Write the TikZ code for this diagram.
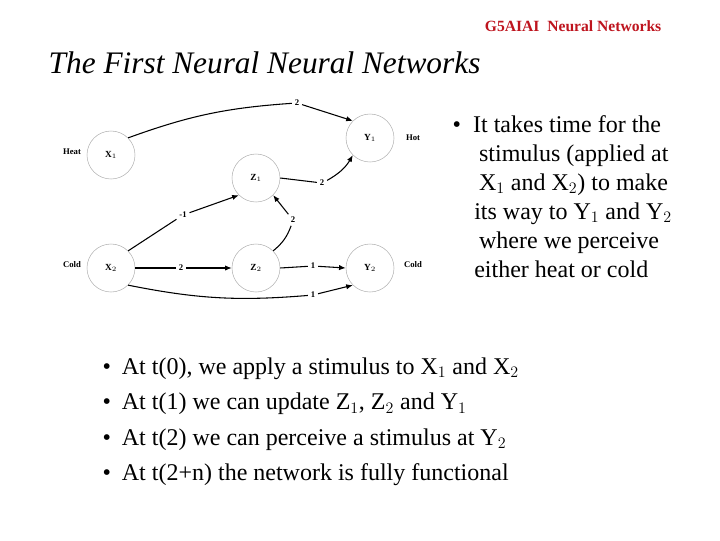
\documentclass[tikz,border=0pt]{standalone}
\usepackage{fontspec}
\setmainfont{Liberation Serif}
\usetikzlibrary{positioning,arrows.meta}
\tikzset{>=latex}
\definecolor{myred}{RGB}{190,20,30}
\tikzstyle{neuron}=[circle, draw=gray!60, minimum size=36, inner sep=0pt, font=\fontsize{7}{8}\selectfont\bfseries]
\tikzstyle{weight}=[fill=white, inner sep=2pt, font=\fontsize{6.5}{8}\selectfont\bfseries]
\tikzstyle{side}=[font=\fontsize{6.5}{8}\selectfont\bfseries]
\tikzstyle{connect arrow}=[-{Latex[length=5,width=4]},thick]
\tikzstyle{bullets}=[align=left, anchor=north west, font=\fontsize{18}{21.7}\selectfont]

\begin{document}
\begin{tikzpicture}[x=0.75pt, y=-0.75pt]
\useasboundingbox (0,0) rectangle (720,540);

\node[font=\fontsize{11.7}{13}\selectfont\bfseries, text=myred, anchor=east] (header) at (666,26) {G5AIAI\ \ Neural Networks};
\node[font=\fontsize{23.5}{26}\selectfont\itshape, anchor=west] (title) at (44,63) {The First Neural Neural Networks};

% neurons
\node[neuron] (x1) at (111,155) {X$_1$};
\node[neuron] (x2) at (111,268) {X$_2$};
\node[neuron] (z1) at (256,178) {Z$_1$};
\node[neuron] (z2) at (256,268) {Z$_2$};
\node[neuron] (y1) at (370,138) {Y$_1$};
\node[neuron] (y2) at (370,268) {Y$_2$};

\node[side] (heat) at (72,152) {Heat};
\node[side] (cold1) at (72,265) {Cold};
\node[side] (hot) at (413,138) {Hot};
\node[side] (cold2) at (413,265) {Cold};

% weights
\node[weight] (w1) at (297,103) {2};
\node[weight] (w2) at (322,183) {2};
\node[weight] (w3) at (183,215) {-1};
\node[weight] (w4) at (293,220) {2};
\node[weight] (w5) at (181,268) {2};
\node[weight] (w6) at (313,266) {1};
\node[weight] (w7) at (313,295) {1};

\begin{scope}[connect arrow]
    \draw[-] (x1.north east) to[bend left=8] (w1);
    \draw (w1) -- (y1.north west);
    \draw[-] (z1.east) -- (w2);
    \draw (w2) to[bend right=15] (y1.south west);
    \draw[-] (x2.north east) -- (w3);
    \draw (w3) -- (z1.south west);
    \draw[-] (z2.north east) to[bend right=15] (w4);
    \draw (w4) -- (z1.south east);
    \draw[-] (x2.east) -- (w5);
    \draw (w5) -- (z2.west);
    \draw[-] (z2.east) -- (w6);
    \draw (w6) -- (y2.west);
    \draw[-] (x2.south east) to[bend right=8] (w7);
    \draw (w7) -- (y2.south west);
\end{scope}

\node[bullets] (side text) at (448,111) {%
\textbullet\ \ It takes time for the\\
\hspace*{1.1em}stimulus (applied at\\
\hspace*{1.1em}X$_1$ and X$_2$) to make\\
\hspace*{0.9em}its way to Y$_1$ and Y$_2$\\
\hspace*{1.1em}where we perceive\\
\hspace*{0.9em}either heat or cold};

\node[bullets, font=\fontsize{18}{26.5}\selectfont] (steps) at (98,353) {%
\textbullet\hspace{0.45em}At t(0), we apply a stimulus to X$_1$ and X$_2$\\
\textbullet\hspace{0.45em}At t(1) we can update Z$_1$, Z$_2$ and Y$_1$\\
\textbullet\hspace{0.45em}At t(2) we can perceive a stimulus at Y$_2$\\
\textbullet\hspace{0.45em}At t(2+n) the network is fully functional};
\end{tikzpicture}
\end{document}
